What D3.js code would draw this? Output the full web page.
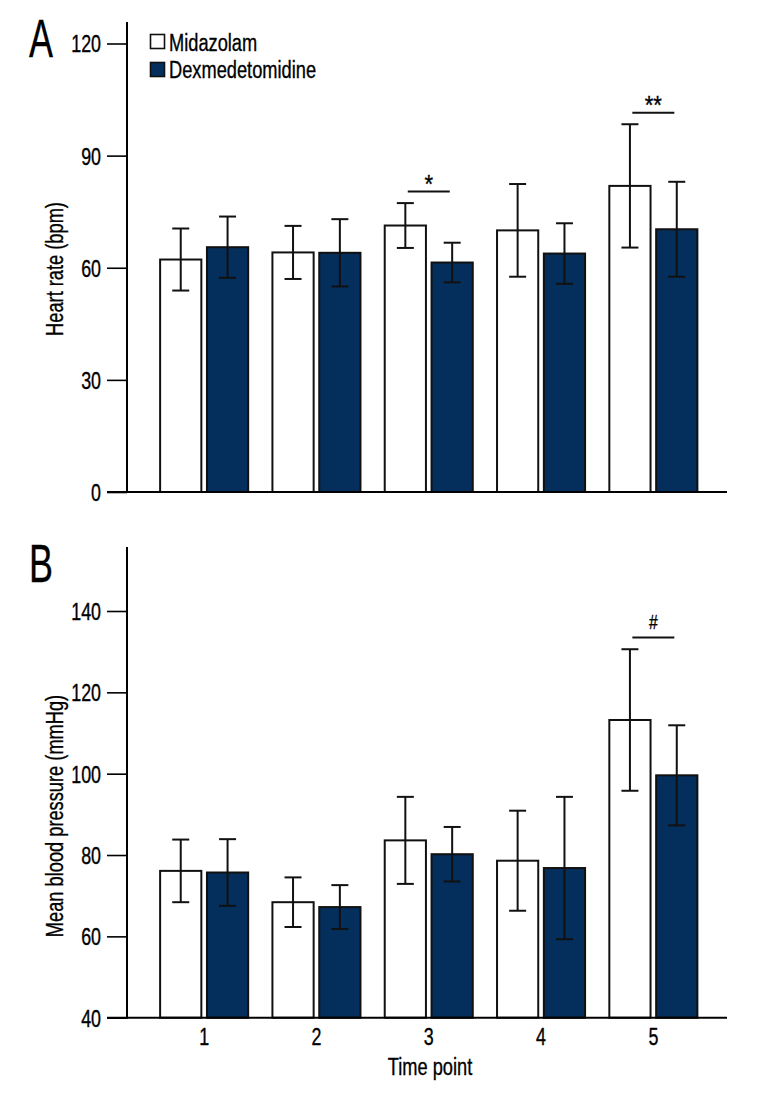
<!DOCTYPE html>
<html>
<head>
<meta charset="utf-8">
<script src="https://cdn.jsdelivr.net/npm/d3@7"></script>
<style>
  html, body { margin: 0; padding: 0; background: #fff; }
  svg text { font-family: "Liberation Sans", Arial, sans-serif; fill: #000; stroke: #000; stroke-width: 0.35px; }
</style>
</head>
<body>
<svg id="chart" width="768" height="1104"></svg>
<script>
// ---- Data ----
const timePoints = ["1", "2", "3", "4", "5"];
const groups = ["Midazolam", "Dexmedetomidine"];

// Panel A: Heart rate (bpm)
const hrMidazolam = [62.2, 64.1, 71.3, 70.0, 81.9];
const hrMidazolamSD = [8.3, 7.1, 6.0, 12.4, 16.5];
const hrDexmed = [65.5, 64.0, 61.4, 63.8, 70.3];
const hrDexmedSD = [8.2, 9.0, 5.3, 8.1, 12.7];
const hrTicks = [0, 30, 60, 90, 120];

// Panel B: Mean blood pressure (mmHg)
const mbpMidazolam = [76.1, 68.4, 83.6, 78.6, 113.2];
const mbpMidazolamSD = [7.7, 6.1, 10.7, 12.3, 17.4];
const mbpDexmed = [75.7, 67.2, 80.2, 76.8, 99.6];
const mbpDexmedSD = [8.2, 5.4, 6.7, 17.5, 12.3];
const mbpTicks = [40, 60, 80, 100, 120, 140];

// Significance marks
const sigA = [{ point: "3", label: "*", level: 80.4 }, { point: "5", label: "**", level: 101.5 }];
const sigB = [{ point: "5", label: "#", level: 133.5 }];

// ---- Drawing ----
const svg = d3.select("#chart");
const colors = { Midazolam: "#ffffff", Dexmedetomidine: "#042e5b" };
const axisX = 127, axisRight = 727;
const SX = 0.75; // horizontal condensing of text

function ctext(parent, x, y, str, size, anchor, rot, sx) {
  return parent.append("text")
    .attr("transform", `translate(${x},${y})${rot ? ` rotate(${rot})` : ""} scale(${sx || SX},1)`)
    .attr("text-anchor", anchor || "start").attr("font-size", size).text(str);
}

const x0 = d3.scaleBand().domain(timePoints).range([148, 709.5]).paddingInner(0.216).paddingOuter(0.108);
const x1 = d3.scaleBand().domain(groups).range([0, x0.bandwidth()]).paddingInner(0.12);

function panel(cfg) {
  const g = svg.append("g");
  const y = d3.scaleLinear().domain(cfg.domain).range(cfg.range);
  const bottom = cfg.range[0];

  // y axis
  const ya = g.append("g").attr("transform", `translate(${axisX},0)`)
    .call(d3.axisLeft(y).tickValues(cfg.ticks).tickSize(20).tickSizeOuter(0).tickPadding(6));
  ya.select(".domain").remove();
  ya.selectAll(".tick line").attr("stroke", "#000").attr("stroke-width", 1.6);
  ya.selectAll(".tick text").each(function () {
    const t = d3.select(this);
    const x = +t.attr("x");
    t.attr("x", null).attr("dy", "0.36em").attr("font-size", 23.5)
      .attr("transform", `translate(${x},0) scale(0.76,1)`).style("font-family", null);
  });
  g.append("line").attr("x1", axisX).attr("x2", axisX).attr("y1", cfg.axisTop).attr("y2", bottom + 1)
    .attr("stroke", "#000").attr("stroke-width", 2);

  // bars
  const rows = timePoints.map((t, i) => ({ t, vals: [
    { k: "Midazolam", v: cfg.mid[i], sd: cfg.midSD[i] },
    { k: "Dexmedetomidine", v: cfg.dex[i], sd: cfg.dexSD[i] }] }));
  const grp = g.selectAll(".grp").data(rows).enter().append("g")
    .attr("transform", d => `translate(${x0(d.t)},0)`);
  grp.selectAll("rect").data(d => d.vals).enter().append("rect")
    .attr("x", d => x1(d.k)).attr("width", x1.bandwidth())
    .attr("y", d => y(d.v)).attr("height", d => bottom - y(d.v))
    .attr("fill", d => colors[d.k]).attr("stroke", "#111").attr("stroke-width", 2);
  // error bars
  const eb = grp.selectAll(".eb").data(d => d.vals).enter().append("g");
  eb.append("line")
    .attr("x1", d => x1(d.k) + x1.bandwidth() / 2).attr("x2", d => x1(d.k) + x1.bandwidth() / 2)
    .attr("y1", d => y(d.v + d.sd)).attr("y2", d => y(d.v - d.sd))
    .attr("stroke", "#111").attr("stroke-width", 2);
  [1, -1].forEach(s => {
    eb.append("line")
      .attr("x1", d => x1(d.k) + x1.bandwidth() / 2 - 8.5).attr("x2", d => x1(d.k) + x1.bandwidth() / 2 + 8.5)
      .attr("y1", d => y(d.v + s * d.sd)).attr("y2", d => y(d.v + s * d.sd))
      .attr("stroke", "#111").attr("stroke-width", 2);
  });

  // x axis baseline
  g.append("line").attr("x1", axisX - 20).attr("x2", axisRight).attr("y1", bottom).attr("y2", bottom)
    .attr("stroke", "#000").attr("stroke-width", 2);

  // significance
  cfg.sig.forEach(s => {
    const cx = x0(s.point) + x0.bandwidth() / 2;
    g.append("line").attr("x1", cx - 21).attr("x2", cx + 21).attr("y1", y(s.level)).attr("y2", y(s.level))
      .attr("stroke", "#111").attr("stroke-width", 2);
    if (s.label === "#") ctext(g, cx, y(s.level) - 8, s.label, 21, "middle");
    else ctext(g, cx, y(s.level) + 1, s.label, 26, "middle", 0, 0.85);
  });

  // y label
  ctext(g, cfg.labelX, cfg.labelY, cfg.yLabel, 24.5, "middle", -90, 0.745);
  // panel letter
  ctext(g, cfg.letterX, cfg.letterY, cfg.letter, 54.5, "start", 0, 0.66);
  return { g, y, bottom };
}

panel({ domain: [0, 120], range: [492, 43.5], ticks: hrTicks, axisTop: 22,
  mid: hrMidazolam, midSD: hrMidazolamSD, dex: hrDexmed, dexSD: hrDexmedSD, sig: sigA,
  yLabel: "Heart rate (bpm)", labelX: 63, labelY: 269, letter: "A", letterX: 29, letterY: 57 });

const pB = panel({ domain: [40, 140], range: [1017.7, 611], ticks: mbpTicks, axisTop: 547,
  mid: mbpMidazolam, midSD: mbpMidazolamSD, dex: mbpDexmed, dexSD: mbpDexmedSD, sig: sigB,
  yLabel: "Mean blood pressure (mmHg)", labelX: 63, labelY: 816, letter: "B", letterX: 29, letterY: 582 });

// x tick labels (panel B)
const xa = pB.g.append("g").attr("transform", `translate(0,${pB.bottom})`)
  .call(d3.axisBottom(x0).tickSize(0).tickPadding(11));
xa.select(".domain").remove();
xa.selectAll(".tick text").each(function () {
  const t = d3.select(this);
  const yy = +t.attr("y");
  t.attr("y", null).attr("font-size", 23.5).attr("dy", "0.71em")
    .attr("transform", `translate(0,${yy}) scale(0.76,1)`).style("font-family", null);
});
ctext(pB.g, 430, 1075, "Time point", 24.5, "middle", 0, 0.745);

// legend
const lg = svg.append("g");
groups.forEach((k, i) => {
  lg.append("rect").attr("x", 150.5).attr("y", 34.5 + i * 28).attr("width", 14).attr("height", 14)
    .attr("fill", colors[k]).attr("stroke", "#111").attr("stroke-width", 1.6);
  ctext(lg, 169, 50.8 + i * 27, k, 24.5, "start", 0, 0.745);
});
</script>
</body>
</html>
